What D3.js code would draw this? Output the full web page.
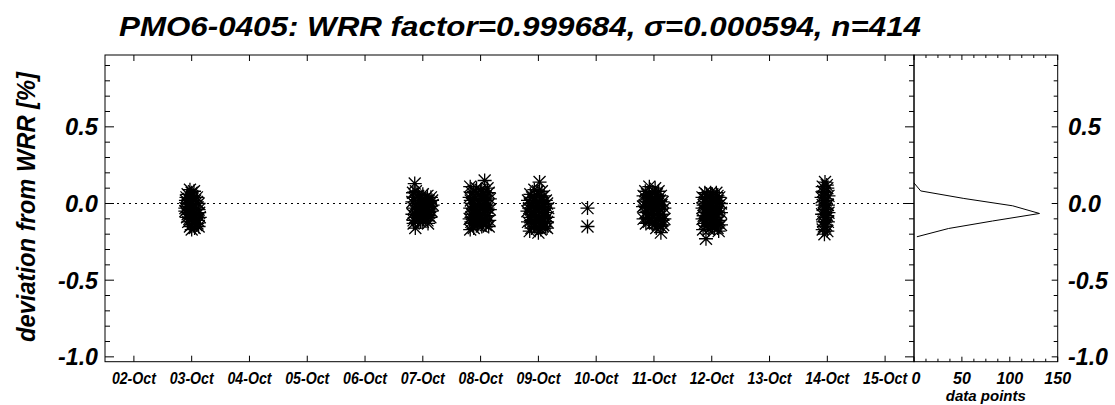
<!DOCTYPE html>
<html><head><meta charset="utf-8">
<script src="https://cdn.jsdelivr.net/npm/d3@7"></script>
<style>
body{margin:0;background:#fff;}
svg text{font-family:"Liberation Sans",Arial,Helvetica,sans-serif;font-weight:bold;font-style:italic;fill:#000;}
</style></head>
<body><svg id="c" width="1115" height="405"></svg>
<script>
// ---- data ----
const titleText = "PMO6-0405: WRR factor=0.999684, \u03c3=0.000594, n=414";
const yLabel = "deviation from WRR [%]";
const xLabelHist = "data points";
const dayTicks = [2,3,4,5,6,7,8,9,10,11,12,13,14,15];
const dayTickLabels = ["02-Oct","03-Oct","04-Oct","05-Oct","06-Oct","07-Oct","08-Oct","09-Oct","10-Oct","11-Oct","12-Oct","13-Oct","14-Oct","15-Oct"];
const yMajorTicks = [-1.0,-0.5,0.0,0.5];
const yTickLabels = ["-1.0","-0.5","0.0","0.5"];
const histTicks = [0,50,100,150];
const histTickLabels = ["0","50","100","150"];
// histogram: bin centres (deviation %) and counts
const histBins = [0.134,0.082,0.033,-0.015,-0.065,-0.114,-0.163,-0.217];
const histCounts = [0,7,52,103,131,82,36,3];
// observations: [day of October, deviation %]
const obs03 = [[2.97,0.09],[3.04,0.08],[2.93,0.06],[3.01,0.05],[3.09,0.04],[2.90,0.02],[2.98,0.01],[3.06,0.02],[3.12,0.00],[2.92,-0.02],[3.00,-0.03],[3.08,-0.03],[2.89,-0.05],[2.96,-0.06],[3.04,-0.05],[3.13,-0.06],[2.92,-0.09],[3.00,-0.08],[3.08,-0.10],[3.14,-0.09],[2.94,-0.12],[3.02,-0.12],[3.10,-0.13],[2.97,-0.15],[3.05,-0.16],[3.12,-0.15],[3.00,-0.17],[2.95,0.03],[3.03,-0.01],[3.06,-0.11],
  [2.93,0.00],[3.01,0.03],[3.09,0.01],[2.89,-0.03],[2.97,-0.04],[3.05,-0.08],[3.12,-0.04],[2.96,-0.10],[3.04,-0.09],[2.99,-0.14],[3.08,-0.14],[2.93,-0.07],[3.00,0.07],[3.11,-0.11],[2.91,0.04]];
const obs07 = [[6.86,0.13],[6.88,0.08],[6.84,0.04],[6.92,0.05],[7.00,0.06],[7.08,0.05],[7.14,0.04],[6.82,0.01],[6.90,0.00],[6.97,0.02],[7.05,0.01],[7.12,0.00],[7.17,-0.01],[6.85,-0.03],[6.93,-0.04],[7.01,-0.03],[7.09,-0.04],[7.15,-0.05],[6.82,-0.07],[6.90,-0.08],[6.98,-0.07],[7.06,-0.08],[7.13,-0.09],[6.84,-0.11],[6.92,-0.11],[7.00,-0.12],[7.08,-0.11],[6.87,-0.16],[7.09,-0.13],[6.95,-0.09],[7.03,-0.05],
  [6.95,0.03],[7.03,0.03],[7.10,0.02],[6.87,-0.01],[6.95,-0.02],[7.03,-0.01],[7.11,-0.02],[6.88,-0.05],[6.96,-0.06],[7.04,-0.06],[7.11,-0.06],[6.87,-0.09],[7.02,-0.09],[7.10,-0.08],[6.96,-0.12],[6.84,-0.13],[6.83,0.07],[7.16,0.02]];
const obs08 = [[8.07,0.15],[7.82,0.11],[7.93,0.10],[8.00,0.09],[8.12,0.10],[7.85,0.07],[7.97,0.06],[8.05,0.06],[8.14,0.07],[7.81,0.04],[7.90,0.03],[8.02,0.03],[8.10,0.02],[8.16,0.03],[7.86,0.00],[7.95,-0.01],[8.06,0.00],[8.13,-0.01],[7.82,-0.03],[7.91,-0.04],[8.00,-0.04],[8.09,-0.05],[8.16,-0.04],[7.85,-0.07],[7.96,-0.08],[8.04,-0.07],[8.12,-0.08],[7.81,-0.10],[7.90,-0.11],[8.00,-0.11],[8.08,-0.10],[8.15,-0.11],[7.86,-0.13],[7.95,-0.14],[8.04,-0.13],[7.82,-0.17],[8.14,-0.15],[7.88,-0.16],
  [7.88,0.08],[8.02,0.08],[8.09,0.05],[7.83,0.02],[7.94,0.02],[8.06,0.03],[7.89,-0.02],[7.98,-0.02],[8.04,-0.02],[8.12,-0.03],[7.87,-0.05],[7.93,-0.06],[8.07,-0.06],[7.84,-0.09],[7.98,-0.09],[8.10,-0.12],[7.92,-0.12],[8.02,-0.15],[8.09,-0.14],[7.84,-0.12]];
const obs09 = [[9.02,0.14],[8.93,0.09],[9.06,0.08],[8.86,0.06],[8.97,0.05],[9.10,0.05],[8.82,0.02],[8.92,0.02],[9.02,0.01],[9.13,0.02],[8.87,-0.01],[8.98,-0.02],[9.08,-0.02],[9.17,-0.03],[8.81,-0.05],[8.92,-0.05],[9.03,-0.06],[9.13,-0.06],[8.86,-0.09],[8.96,-0.09],[9.06,-0.10],[9.16,-0.09],[8.82,-0.12],[8.92,-0.13],[9.02,-0.13],[9.11,-0.13],[8.88,-0.16],[8.98,-0.16],[9.08,-0.15],[8.85,-0.18],[9.15,-0.16],[9.00,-0.19],
  [8.99,0.08],[8.89,0.04],[9.05,0.04],[8.85,0.00],[8.97,0.00],[9.08,0.00],[9.15,0.00],[8.84,-0.03],[8.95,-0.03],[9.10,-0.04],[8.89,-0.07],[9.00,-0.08],[9.10,-0.08],[8.87,-0.11],[8.97,-0.11],[9.07,-0.12],[9.15,-0.12],[8.93,-0.15],[9.04,-0.17],[9.12,-0.15]];
const obs10 = [[9.85,-0.03],[9.85,-0.15]];
const obs11 = [[10.92,0.11],[11.02,0.10],[10.85,0.08],[10.97,0.07],[11.08,0.08],[10.82,0.05],[10.91,0.04],[11.01,0.04],[11.12,0.05],[10.86,0.01],[10.96,0.01],[11.06,0.00],[11.15,0.01],[10.81,-0.02],[10.90,-0.03],[11.00,-0.03],[11.10,-0.04],[11.18,-0.03],[10.85,-0.06],[10.95,-0.07],[11.05,-0.07],[11.15,-0.07],[10.82,-0.10],[10.92,-0.10],[11.02,-0.11],[11.12,-0.11],[11.18,-0.10],[10.86,-0.13],[10.97,-0.13],[11.07,-0.14],[11.16,-0.14],[11.12,-0.19],[11.04,-0.16],
  [10.88,0.06],[11.05,0.06],[10.94,0.02],[11.04,0.02],[11.10,0.02],[10.84,-0.01],[10.93,0.00],[11.03,-0.01],[11.13,-0.01],[10.88,-0.05],[10.98,-0.05],[11.08,-0.05],[10.88,-0.09],[10.97,-0.09],[11.08,-0.09],[11.15,-0.11],[10.91,-0.12],[11.02,-0.13],[11.12,-0.15]];
const obs12 = [[11.88,0.07],[11.98,0.07],[12.08,0.07],[11.84,0.04],[11.93,0.04],[12.03,0.04],[12.13,0.04],[11.88,0.01],[11.98,0.00],[12.08,0.01],[12.16,0.00],[11.84,-0.03],[11.93,-0.03],[12.03,-0.04],[12.13,-0.03],[11.88,-0.06],[11.98,-0.07],[12.08,-0.07],[12.16,-0.06],[11.84,-0.10],[11.93,-0.10],[12.03,-0.10],[12.13,-0.11],[11.88,-0.13],[11.98,-0.14],[12.08,-0.13],[12.16,-0.14],[11.85,-0.17],[11.95,-0.17],[12.05,-0.16],[12.12,-0.18],[11.90,-0.23],
  [11.91,0.06],[12.01,0.06],[12.10,0.05],[11.89,0.03],[12.00,0.02],[12.10,0.02],[11.86,-0.01],[11.95,-0.02],[12.06,-0.02],[11.91,-0.05],[12.01,-0.05],[12.11,-0.05],[11.86,-0.08],[11.96,-0.08],[12.06,-0.09],[11.91,-0.11],[12.01,-0.12],[12.11,-0.12],[11.90,-0.15],[12.01,-0.15],[12.10,-0.16]];
const obs14 = [[13.96,0.14],[13.92,0.11],[14.00,0.10],[13.95,0.07],[13.90,0.04],[14.02,0.05],[13.97,0.02],[13.92,-0.01],[14.01,-0.01],[13.95,-0.04],[13.91,-0.07],[14.02,-0.06],[13.97,-0.09],[13.93,-0.12],[14.01,-0.12],[13.96,-0.15],[13.92,-0.17],[14.00,-0.18],[13.95,-0.20],
  [13.99,0.12],[13.93,0.08],[13.99,0.03],[13.94,0.01],[13.98,-0.03],[13.95,-0.07],[14.00,-0.08],[13.98,-0.14],[13.94,-0.15]];

// ---- layout ----
const svg = d3.select("#c");
const L = 105, R = 914, HR = 1057.7, T = 55, B = 361.7;
const x = d3.scaleLinear().domain([1.5, 15.5]).range([L, R]);
const y = d3.scaleLinear().domain([-1.0316, 0.9684]).range([B, T]);
const hx = d3.scaleLinear().domain([0, 150]).range([R, HR]);
const yMinor = d3.range(-10, 10).map(i => i / 10);
const hMinor = d3.range(0, 151, 12.5);

// title
svg.append("text").attr("x", 520).attr("y", 36).attr("text-anchor", "middle")
  .attr("font-size", 28).attr("textLength", 802).attr("lengthAdjust", "spacingAndGlyphs").text(titleText);

// y label
svg.append("text").attr("transform", "translate(35,207) rotate(-90)").attr("text-anchor", "middle")
  .attr("font-size", 26).attr("textLength", 270).attr("lengthAdjust", "spacingAndGlyphs").text(yLabel);

const g = svg.append("g").attr("stroke", "#000").attr("stroke-width", 1).attr("fill", "none");

// frames
g.append("rect").attr("x", L).attr("y", T).attr("width", R - L).attr("height", B - T);
g.append("rect").attr("x", R).attr("y", T).attr("width", HR - R).attr("height", B - T);

// main x ticks (top & bottom)
dayTicks.forEach(d => {
  g.append("line").attr("x1", x(d)).attr("x2", x(d)).attr("y1", B).attr("y2", B - 6);
  g.append("line").attr("x1", x(d)).attr("x2", x(d)).attr("y1", T).attr("y2", T + 6);
});
// y ticks: main left (inward), main right (inward, at R), hist right (inward)
yMinor.forEach(v => {
  const major = yMajorTicks.some(m => Math.abs(m - v) < 1e-9);
  const yy = y(v);
  g.append("line").attr("x1", L).attr("x2", L + (major ? 9 : 5)).attr("y1", yy).attr("y2", yy);
  g.append("line").attr("x1", R).attr("x2", R - (major ? 9 : 5)).attr("y1", yy).attr("y2", yy);
  g.append("line").attr("x1", HR).attr("x2", HR - (major ? 6 : 4)).attr("y1", yy).attr("y2", yy);
});
// histogram x ticks
hMinor.forEach(c => {
  const major = histTicks.includes(c);
  const len = major ? 5 : 3;
  g.append("line").attr("x1", hx(c)).attr("x2", hx(c)).attr("y1", B).attr("y2", B - len);
  g.append("line").attr("x1", hx(c)).attr("x2", hx(c)).attr("y1", T).attr("y2", T + len);
});

// zero dotted line
g.append("line").attr("x1", L).attr("x2", R).attr("y1", y(0)).attr("y2", y(0))
  .attr("stroke-dasharray", "2,4");

// tick labels
svg.selectAll(".xl").data(dayTicks).join("text").attr("class", "xl")
  .attr("x", d => x(d)).attr("y", 384).attr("text-anchor", "middle").attr("font-size", 16)
  .attr("textLength", 44).attr("lengthAdjust", "spacingAndGlyphs")
  .text((d, i) => dayTickLabels[i]);
svg.selectAll(".yl").data(yMajorTicks).join("text").attr("class", "yl")
  .attr("x", 98).attr("y", d => y(d) + 8.5).attr("text-anchor", "end").attr("font-size", 24)
  .attr("textLength", d => d < 0 ? 40 : 33).attr("lengthAdjust", "spacingAndGlyphs")
  .text((d, i) => yTickLabels[i]);
svg.selectAll(".yr").data(yMajorTicks).join("text").attr("class", "yr")
  .attr("x", 1068).attr("y", d => y(d) + 8.5).attr("text-anchor", "start").attr("font-size", 24)
  .attr("textLength", d => d < 0 ? 40 : 33).attr("lengthAdjust", "spacingAndGlyphs")
  .text((d, i) => yTickLabels[i]);
svg.selectAll(".hl").data(histTicks).join("text").attr("class", "hl")
  .attr("x", d => hx(d) + (d === 0 ? 2 : 0)).attr("y", 384).attr("text-anchor", "middle").attr("font-size", 16)
  .text((d, i) => histTickLabels[i]);
svg.append("text").attr("x", hx(75)).attr("y", 401).attr("text-anchor", "middle").attr("font-size", 15)
  .text(xLabelHist);

// histogram curve
const hline = d3.line().x((d, i) => hx(histCounts[i])).y(d => y(d));
g.append("path").attr("d", hline(histBins));

// observations as asterisks
const star = "M0,-7L0,7M-7,0L7,0M-6,-6L6,6M-6,6L6,-6";
const allObs = [obs03, obs07, obs08, obs09, obs10, obs11, obs12, obs14];
allObs.forEach(arr => {
  g.append("g").selectAll("path").data(arr).join("path")
    .attr("transform", d => `translate(${x(d[0])},${y(d[1])})`)
    .attr("stroke-width", 1.3)
    .attr("d", star);
});
</script></body></html>
